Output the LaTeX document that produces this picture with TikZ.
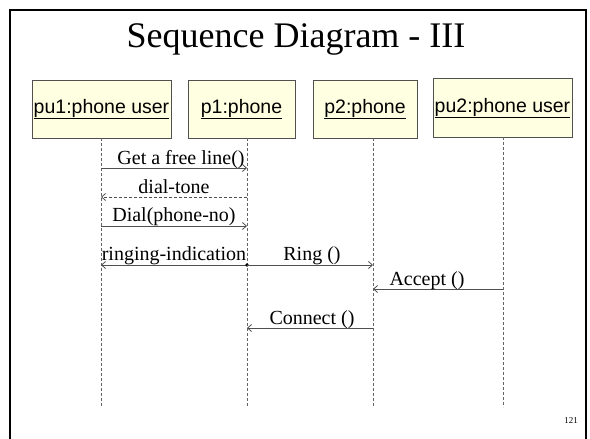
\documentclass[tikz,border=0pt]{standalone}
\usepackage{fontspec}
\setmainfont{Liberation Serif}
\newfontfamily\boxfont{Liberation Sans}
\usetikzlibrary{arrows.meta}
\definecolor{objfill}{HTML}{FFFFE1}
\definecolor{objline}{HTML}{505050}
\definecolor{msgline}{HTML}{505050}
\tikzset{
  objbox/.style={draw=objline, fill=objfill, line width=0.8pt, inner sep=0pt,
    minimum height=58pt, text height=14pt, text depth=6pt,
    font=\boxfont\fontsize{19.5}{22}\selectfont},
  lifeline/.style={draw=gray!80!black, line width=0.8pt, dash pattern=on 3pt off 2pt},
  msg/.style={draw=msgline, line width=0.8pt, -{Straight Barb[length=4pt,width=7pt]}},
  reply/.style={msg, dash pattern=on 3pt off 2pt},
  msglabel/.style={font=\fontsize{20}{22}\selectfont, anchor=base, inner sep=0pt},
}
\begin{document}
\begin{tikzpicture}[x=1pt, y=-1pt]
\useasboundingbox (0,0) rectangle (590,439);
% slide frame (open at the bottom)
\draw[line width=2pt] (10,450) -- (10,10) -- (586,10) -- (586,450);
\node[font=\fontsize{36}{40}\selectfont] (title) at (296,39) {Sequence Diagram - III};

% objects
\node[objbox, minimum width=139pt] (pu1) at (101.5,109) {\underline{pu1:phone user}};
\node[objbox, minimum width=107pt] (p1)  at (241.5,109) {\underline{p1:phone}};
\node[objbox, minimum width=104pt] (p2)  at (365,109)   {\underline{p2:phone}};
\node[objbox, minimum width=139pt, minimum height=59pt] (pu2) at (502.5,108) {\underline{pu2:phone user}};

% lifelines
\coordinate (l1t) at (101,138); \coordinate (l1b) at (101,407);
\coordinate (l2t) at (247,138); \coordinate (l2b) at (247,407);
\coordinate (l3t) at (373,138); \coordinate (l3b) at (373,407);
\coordinate (l4t) at (503,137); \coordinate (l4b) at (503,407);
\draw[lifeline] (l1t) -- (l1b);
\draw[lifeline] (l2t) -- (l2b);
\draw[lifeline] (l3t) -- (l3b);
\draw[lifeline] (l4t) -- (l4b);

% message heights
\coordinate (m1) at (0,168);
\coordinate (m2) at (0,197);
\coordinate (m3) at (0,226);
\coordinate (m4) at (0,265);
\coordinate (m5) at (0,289);
\coordinate (m6) at (0,328);

\draw[msg] (l1t |- m1) -- (l2t |- m1);
\node[msglabel] (t1) at (181,164) {Get a free line()};
\draw[reply] (l2t |- m2) -- (l1t |- m2);
\node[msglabel] (t2) at (174,193) {dial-tone};
\draw[msg] (l1t |- m3) -- (l2t |- m3);
\node[msglabel] (t3) at (174,221) {Dial(phone-no)};
\draw[msg] (l2t |- m4) -- (l1t |- m4);
\node[msglabel] (t4) at (174,260) {ringing-indication};
\fill (l2t |- m4) circle (1.8pt);
\draw[msg] (l2t |- m4) -- (l3t |- m4);
\node[msglabel] (t5) at (312,260) {Ring ()};
\draw[msg] (l4t |- m5) -- (l3t |- m5);
\node[msglabel] (t6) at (427,285) {Accept ()};
\draw[msg] (l3t |- m6) -- (l2t |- m6);
\node[msglabel] (t7) at (312,324) {Connect ()};

\node[font=\fontsize{9}{10}\selectfont, inner sep=0pt] (page) at (571,421) {121};
\end{tikzpicture}
\end{document}
